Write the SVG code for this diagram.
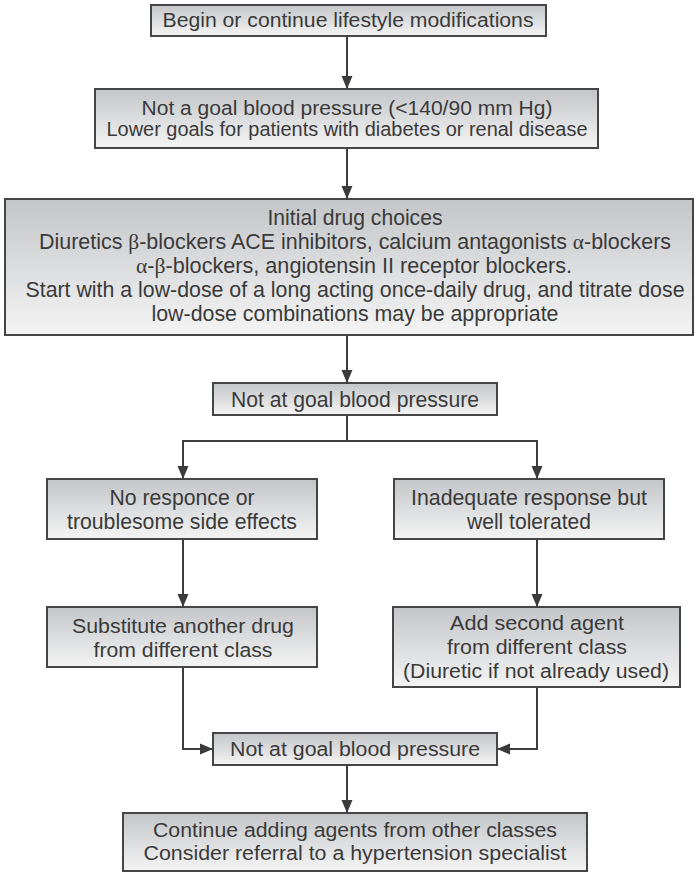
<svg xmlns="http://www.w3.org/2000/svg" width="696" height="873" viewBox="0 0 696 873">
  <defs>
    <linearGradient id="boxFill" x1="0" y1="0" x2="0" y2="1">
      <stop offset="0" stop-color="#c3c5c8"/>
      <stop offset="1" stop-color="#f4f4f4"/>
    </linearGradient>
    <marker id="arrow" markerUnits="userSpaceOnUse" markerWidth="14" markerHeight="14" viewBox="0 0 14 14" refX="13" refY="7" orient="auto">
      <path d="M0,1.5 L13,7 L0,12.5 Z" fill="#3b3b3b"/>
    </marker>
  </defs>
  <style>
    rect.box { fill: url(#boxFill); stroke: #454545; stroke-width: 2; }
    text { font-family: "Liberation Sans", Arial, sans-serif; font-size: 20px; fill: #3a3a3a; text-anchor: middle; }
    text.narrow { font-size: 21.5px; }
    tspan.gk { font-family: "Liberation Serif", "Times New Roman", serif; }
    .conn { fill: none; stroke: #3d3d3d; stroke-width: 2; }
    .arr { marker-end: url(#arrow); }
  </style>
  <rect width="696" height="873" fill="#ffffff"/>

  <g id="connectors">
    <path class="conn arr" d="M347,37 V89"/>
    <path class="conn arr" d="M347,149 V199"/>
    <path class="conn arr" d="M347,336 V383"/>
    <path class="conn" d="M347,416 V441 M183,441 H537"/>
    <path class="conn arr" d="M183,440 V479"/>
    <path class="conn arr" d="M537,440 V479"/>
    <path class="conn arr" d="M183,540 V607"/>
    <path class="conn arr" d="M537,540 V607"/>
    <path class="conn arr" d="M183,668 V749 H213"/>
    <path class="conn arr" d="M537,688 V749 H497"/>
    <path class="conn arr" d="M347,766 V813"/>
  </g>

  <g id="lifestyle">
    <rect class="box" x="151" y="5" width="395" height="31"/>
    <text x="348" y="27" textLength="371" lengthAdjust="spacingAndGlyphs">Begin or continue lifestyle modifications</text>
  </g>

  <g id="goal-bp">
    <rect class="box" x="95" y="89" width="503" height="59"/>
    <text x="347" y="115" textLength="411" lengthAdjust="spacingAndGlyphs">Not a goal blood pressure (&lt;140/90 mm Hg)</text>
    <text x="347" y="136" textLength="481" lengthAdjust="spacingAndGlyphs">Lower goals for patients with diabetes or renal disease</text>
  </g>

  <g id="initial-drugs">
    <rect class="box" x="5" y="199" width="688" height="136"/>
    <text class="narrow" x="355" y="225" textLength="175" lengthAdjust="spacingAndGlyphs">Initial drug choices</text>
    <text class="narrow" x="355" y="249" textLength="632" lengthAdjust="spacingAndGlyphs">Diuretics <tspan class="gk">β</tspan>-blockers ACE inhibitors, calcium antagonists <tspan class="gk">α</tspan>-blockers</text>
    <text class="narrow" x="354" y="273" textLength="436" lengthAdjust="spacingAndGlyphs"><tspan class="gk">α</tspan>-<tspan class="gk">β</tspan>-blockers, angiotensin II receptor blockers.</text>
    <text class="narrow" x="355" y="297" textLength="659" lengthAdjust="spacingAndGlyphs">Start with a low-dose of a long acting once-daily drug, and titrate dose</text>
    <text class="narrow" x="355" y="321" textLength="407" lengthAdjust="spacingAndGlyphs">low-dose combinations may be appropriate</text>
  </g>

  <g id="not-at-goal-1">
    <rect class="box" x="213" y="383" width="284" height="32"/>
    <text class="narrow" x="355" y="407" textLength="248" lengthAdjust="spacingAndGlyphs">Not at goal blood pressure</text>
  </g>

  <g id="no-response">
    <rect class="box" x="47" y="479" width="270" height="60"/>
    <text class="narrow" x="182" y="505" textLength="145" lengthAdjust="spacingAndGlyphs">No responce or</text>
    <text class="narrow" x="182" y="529" textLength="230" lengthAdjust="spacingAndGlyphs">troublesome side effects</text>
  </g>

  <g id="inadequate-response">
    <rect class="box" x="394" y="479" width="270" height="60"/>
    <text class="narrow" x="529" y="505" textLength="236" lengthAdjust="spacingAndGlyphs">Inadequate response but</text>
    <text class="narrow" x="529" y="529" textLength="124" lengthAdjust="spacingAndGlyphs">well tolerated</text>
  </g>

  <g id="substitute">
    <rect class="box" x="47" y="607" width="270" height="60"/>
    <text x="183" y="633" textLength="222" lengthAdjust="spacingAndGlyphs">Substitute another drug</text>
    <text x="183" y="657" textLength="179" lengthAdjust="spacingAndGlyphs">from different class</text>
  </g>

  <g id="second-agent">
    <rect class="box" x="393" y="607" width="287" height="80"/>
    <text x="537" y="630" textLength="174" lengthAdjust="spacingAndGlyphs">Add second agent</text>
    <text x="537" y="654" textLength="180" lengthAdjust="spacingAndGlyphs">from different class</text>
    <text x="536" y="678" textLength="266" lengthAdjust="spacingAndGlyphs">(Diuretic if not already used)</text>
  </g>

  <g id="not-at-goal-2">
    <rect class="box" x="213" y="733" width="284" height="32"/>
    <text x="355" y="756" textLength="250" lengthAdjust="spacingAndGlyphs">Not at goal blood pressure</text>
  </g>

  <g id="continue-adding">
    <rect class="box" x="123" y="813" width="464" height="58"/>
    <text x="355" y="837" textLength="404" lengthAdjust="spacingAndGlyphs">Continue adding agents from other classes</text>
    <text x="355" y="860" textLength="423" lengthAdjust="spacingAndGlyphs">Consider referral to a hypertension specialist</text>
  </g>
</svg>
